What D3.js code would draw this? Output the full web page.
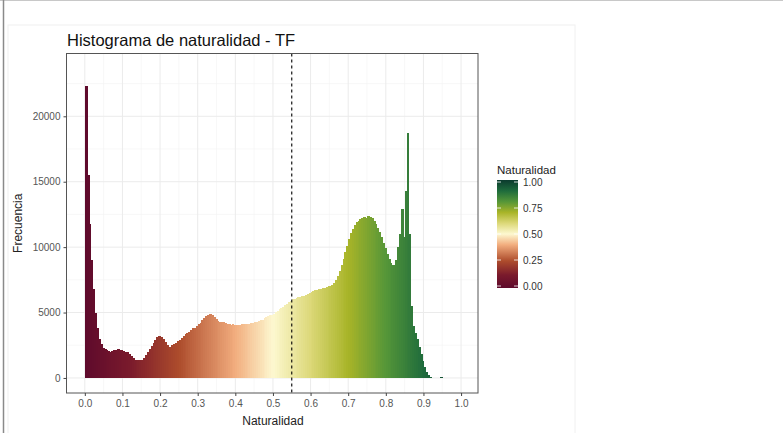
<!DOCTYPE html>
<html>
<head>
<meta charset="utf-8">
<script src="https://cdn.jsdelivr.net/npm/d3@7"></script>
<style>
  body { margin: 0; background: #fff; }
  text { font-family: "Liberation Sans", Arial, sans-serif; }
</style>
</head>
<body>
<script>
// Histogram bins (width 0.005, starting at 0)
var binWidth = 0.005;
var counts = [
  22300, 15500, 11800, 9000, 6800, 5000, 3800, 3000, 2600, 2300,
  2200, 2100, 2050, 2000, 2050, 2100, 2150, 2200, 2150, 2100,
  2050, 2000, 1950, 1800, 1650, 1500, 1400, 1350, 1350, 1380,
  1400, 1500, 1750, 2000, 2250, 2450, 2650, 2900, 3150, 3200,
  3100, 3000, 2750, 2500, 2300, 2350, 2500, 2600, 2700, 2800,
  2900, 3050, 3200, 3350, 3450, 3550, 3700, 3800, 3850, 3950,
  4100, 4200, 4400, 4600, 4750, 4850, 4900, 4800, 4650, 4500,
  4350, 4300, 4280, 4250, 4200, 4150, 4100, 4080, 4100, 4080,
  4070, 4050, 4050, 4100, 4100, 4120, 4150, 4150, 4170, 4200,
  4250, 4300, 4350, 4400, 4460, 4550, 4650, 4750, 4800, 4850,
  4900, 5050, 5150, 5250, 5350, 5450, 5550, 5650, 5800, 5900,
  6000, 6050, 6100, 6150, 6200, 6250, 6250, 6350, 6450, 6500,
  6550, 6650, 6700, 6750, 6800, 6800, 6850, 6900, 6950, 7000,
  7050, 7100, 7250, 7500, 7800, 8200, 8600, 9100, 9600, 10100,
  10600, 11100, 11400, 11700, 11900, 12000, 12150, 12200, 12300, 12250,
  12350, 12300, 12200, 12000, 11800, 11500, 11150, 10800, 10300, 9900,
  9500, 9100, 8800, 8600, 8650, 9000, 10000, 11000, 12900, 10800,
  14300, 18700, 11000, 5500, 4000, 3400, 3000, 2400, 1800, 1300,
  800, 450, 200, 60, 10, 0, 0, 0, 0, 100
];
var xTicks = [0, 0.1, 0.2, 0.3, 0.4, 0.5, 0.6, 0.7, 0.8, 0.9, 1.0];
var yTicks = [0, 5000, 10000, 15000, 20000];
var legendTicks = [0, 0.25, 0.5, 0.75, 1];
var threshold = 0.55;

// colour ramp for naturalidad
var colorStops = [0, 0.12, 0.25, 0.4, 0.5, 0.6, 0.7, 0.8, 0.9, 1];
var colorValues = ["#5e0a2c", "#7a1a2c", "#ad4c2c", "#f2ad7e", "#fdf8d0",
                   "#dcd878", "#a8b428", "#559638", "#1e6b3c", "#0b3a2e"];

var width = 783, height = 433;
var panel = { left: 66.5, right: 478, top: 53.5, bottom: 393 };

var svg = d3.select("body").append("svg")
    .attr("width", width)
    .attr("height", height);

// outer frame bits from the screenshot
svg.append("rect").attr("x", 8).attr("y", 25).attr("width", 567).attr("height", 420)
    .attr("fill", "none").attr("stroke", "#f0f0f0");
svg.append("line").attr("x1", 0).attr("x2", width).attr("y1", 0.5).attr("y2", 0.5)
    .attr("stroke", "#c8c8c8");
svg.append("line").attr("x1", 3.5).attr("x2", 3.5).attr("y1", 0).attr("y2", height)
    .attr("stroke", "#8a8a8a").attr("stroke-width", 1.5);

var x = d3.scaleLinear().domain([-0.0487, 1.045]).range([panel.left, panel.right]);
var y = d3.scaleLinear().domain([-1150, 24800]).range([panel.bottom, panel.top]);
var color = d3.scaleLinear().domain(colorStops).range(colorValues);

// grid
var grid = svg.append("g");
var xMinor = d3.range(0.05, 1.0, 0.1);
var yMinor = [2500, 7500, 12500, 17500, 22500];
grid.selectAll(".xmin").data(xMinor).enter().append("line")
    .attr("x1", d => x(d)).attr("x2", d => x(d))
    .attr("y1", panel.top).attr("y2", panel.bottom)
    .attr("stroke", "#f3f3f3").attr("stroke-width", 0.6);
grid.selectAll(".ymin").data(yMinor).enter().append("line")
    .attr("x1", panel.left).attr("x2", panel.right)
    .attr("y1", d => y(d)).attr("y2", d => y(d))
    .attr("stroke", "#f3f3f3").attr("stroke-width", 0.6);
grid.selectAll(".xmaj").data(xTicks).enter().append("line")
    .attr("x1", d => x(d)).attr("x2", d => x(d))
    .attr("y1", panel.top).attr("y2", panel.bottom)
    .attr("stroke", "#ebebeb").attr("stroke-width", 1);
grid.selectAll(".ymaj").data(yTicks).enter().append("line")
    .attr("x1", panel.left).attr("x2", panel.right)
    .attr("y1", d => y(d)).attr("y2", d => y(d))
    .attr("stroke", "#ebebeb").attr("stroke-width", 1);

// bars (slightly overlapped so no seams show)
svg.append("g").attr("shape-rendering", "crispEdges").selectAll("rect")
    .data(counts)
    .enter()
    .append("rect")
      .attr("x", (d, i) => x(i * binWidth))
      .attr("width", (d, i) => x((i + 1) * binWidth) - x(i * binWidth) + 1)
      .attr("y", d => y(d))
      .attr("height", d => y(0) - y(d))
      .attr("fill", (d, i) => color((i + 0.5) * binWidth));

// threshold line
svg.append("line")
    .attr("x1", x(threshold)).attr("x2", x(threshold))
    .attr("y1", panel.top).attr("y2", panel.bottom)
    .attr("stroke", "#000").attr("stroke-width", 1.1)
    .attr("stroke-dasharray", "3,3");

// panel border
svg.append("rect")
    .attr("x", panel.left).attr("y", panel.top)
    .attr("width", panel.right - panel.left).attr("height", panel.bottom - panel.top)
    .attr("fill", "none").attr("stroke", "#555").attr("stroke-width", 1);

// axes
var xAxis = svg.append("g")
    .attr("transform", "translate(0," + panel.bottom + ")")
    .call(d3.axisBottom(x).tickValues(xTicks).tickFormat(d3.format(".1f")).tickSizeOuter(0).tickSize(3).tickPadding(4));
var yAxis = svg.append("g")
    .attr("transform", "translate(" + panel.left + ",0)")
    .call(d3.axisLeft(y).tickValues(yTicks).tickFormat(d3.format("d")).tickSizeOuter(0).tickSize(3).tickPadding(3));
[xAxis, yAxis].forEach(function(a) {
  a.select(".domain").remove();
  a.selectAll(".tick line").attr("stroke", "#444");
  a.selectAll(".tick text").attr("fill", "#555").style("font-size", "10px")
    .style("font-family", "'Liberation Sans', Arial, sans-serif");
});

// titles
svg.append("text")
    .attr("x", 67).attr("y", 46)
    .style("font-size", "16.5px").attr("fill", "#111")
    .text("Histograma de naturalidad - TF");
svg.append("text")
    .attr("x", x(0.5)).attr("y", 425)
    .attr("text-anchor", "middle")
    .style("font-size", "12px").attr("fill", "#222")
    .text("Naturalidad");
svg.append("text")
    .attr("transform", "translate(22," + ((panel.top + panel.bottom) / 2) + ") rotate(-90)")
    .attr("text-anchor", "middle")
    .style("font-size", "12px").attr("fill", "#222")
    .text("Frecuencia");

// legend
var legend = svg.append("g");
var lx = 497, lw = 21;
var ly = d3.scaleLinear().domain([0, 1]).range([286, 182]);
var defs = svg.append("defs");
var grad = defs.append("linearGradient").attr("id", "natgrad")
    .attr("x1", 0).attr("x2", 0).attr("y1", 1).attr("y2", 0);
grad.selectAll("stop").data(colorStops).enter().append("stop")
    .attr("offset", d => d)
    .attr("stop-color", (d, i) => colorValues[i]);
legend.append("text")
    .attr("x", lx).attr("y", 174)
    .style("font-size", "11.5px").attr("fill", "#222")
    .text("Naturalidad");
legend.append("rect")
    .attr("x", lx).attr("y", ly(1) - 2)
    .attr("width", lw).attr("height", ly(0) - ly(1) + 4)
    .attr("fill", "url(#natgrad)");
legend.selectAll(".lt").data(legendTicks).enter().append("g")
    .each(function(d) {
      var g = d3.select(this);
      g.append("line").attr("x1", lx).attr("x2", lx + 4)
        .attr("y1", ly(d)).attr("y2", ly(d)).attr("stroke", "#fff").attr("stroke-width", 0.8);
      g.append("line").attr("x1", lx + lw - 4).attr("x2", lx + lw)
        .attr("y1", ly(d)).attr("y2", ly(d)).attr("stroke", "#fff").attr("stroke-width", 0.8);
      g.append("text").attr("x", lx + lw + 5).attr("y", ly(d) + 3.5)
        .style("font-size", "10px").attr("fill", "#333")
        .text(d3.format(".2f")(d));
    });
</script>
</body>
</html>
